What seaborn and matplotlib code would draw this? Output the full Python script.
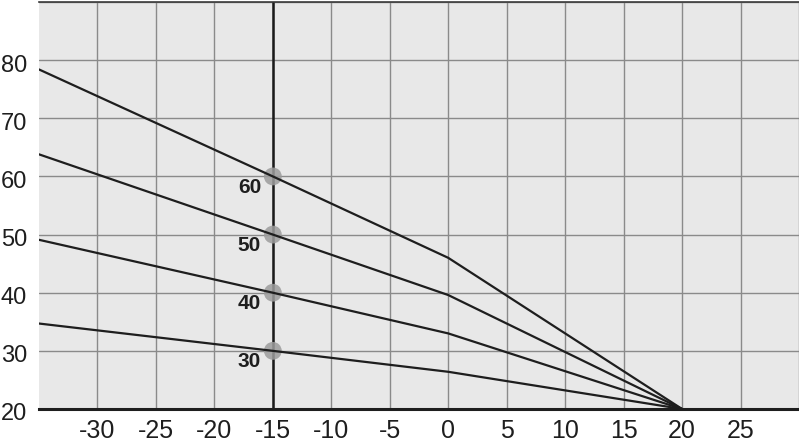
import matplotlib
matplotlib.use("Agg")
import matplotlib.pyplot as plt
from matplotlib.transforms import ScaledTranslation
import seaborn as sns
import pandas as pd

# Heating curves: outdoor temperature (x) vs supply temperature (y)
outdoor = [-35, -15, 0, 20]
curve_60 = [78.4, 60, 46.0, 20]
curve_50 = [63.8, 50, 39.6, 20]
curve_40 = [49.1, 40, 33.0, 20]
curve_30 = [34.7, 30, 26.4, 20]
curve_names = ["60", "50", "40", "30"]
marker_x = -15
marker_y = [60, 50, 40, 30]
x_ticks = [-30, -25, -20, -15, -10, -5, 0, 5, 10, 15, 20, 25]
y_ticks = [20, 30, 40, 50, 60, 70, 80]

rows = []
for name, vals in zip(curve_names, [curve_60, curve_50, curve_40, curve_30]):
    for x, y in zip(outdoor, vals):
        rows.append({"outdoor": x, "supply": y, "curve": name})
df = pd.DataFrame(rows)
pts = pd.DataFrame({"outdoor": [marker_x] * len(marker_y), "supply": marker_y, "curve": curve_names})

sns.set_style("white")
plt.rcParams["font.family"] = ["Liberation Sans", "DejaVu Sans"]

fig = plt.figure(figsize=(7.99, 4.42), dpi=100)
ax = fig.add_axes([39 / 799, 1 - 409 / 442, 760 / 799, 407 / 442])
ax.set_facecolor("#e8e8e8")

ax.set_xlim(-35, 30)
ax.set_ylim(20, 90)
ax.set_xticks(x_ticks + [30])
ax.set_yticks(y_ticks + [90])
ax.grid(True, color="#8a8a8a", linewidth=1.0)
ax.set_axisbelow(True)

ax.axvline(marker_x, color="#1a1a1a", linewidth=1.8, zorder=2)

sns.scatterplot(data=pts, x="outdoor", y="supply", s=165, color="#9c9c9c",
                alpha=0.85, edgecolor="none", ax=ax, legend=False, zorder=2.5)
sns.lineplot(data=df, x="outdoor", y="supply", units="curve", estimator=None,
             color="#1e1e1e", linewidth=1.6, ax=ax, legend=False, zorder=3)

for name, y in zip(curve_names, marker_y):
    ax.text(marker_x - 1.0, y - 1.85, name, ha="right", va="center",
            fontsize=15, fontweight="bold", color="#1e1e1e")

ax.set_xticklabels([str(t) for t in x_ticks] + [""])
ax.set_yticklabels([str(t) for t in y_ticks] + [""])
ax.tick_params(axis="both", length=0, colors="#1e1e1e")
ax.tick_params(axis="x", pad=7.5, labelsize=18)
ax.tick_params(axis="y", pad=8.5, labelsize=17)
for lab in ax.get_yticklabels():
    lab.set_transform(lab.get_transform() + ScaledTranslation(0, -3 / 100, fig.dpi_scale_trans))
ax.set_xlabel("")
ax.set_ylabel("")

for side in ["left", "right"]:
    ax.spines[side].set_visible(False)
ax.spines["bottom"].set_color("#1e1e1e")
ax.spines["bottom"].set_linewidth(2.2)
ax.spines["top"].set_color("#3a3a3a")
ax.spines["top"].set_linewidth(1.2)

fig.savefig("out.png", dpi=100, facecolor="white")
